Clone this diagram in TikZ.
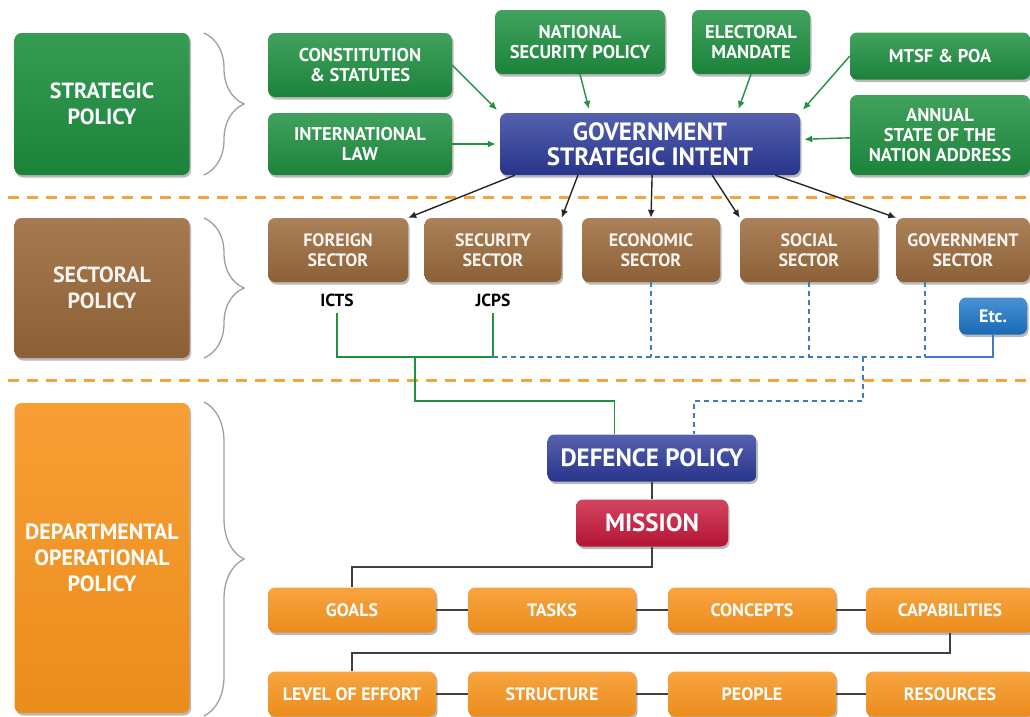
\documentclass[tikz,border=0pt]{standalone}
\usepackage{fontspec}
\setmainfont{PT Sans}
\usepackage{tikz}
\usetikzlibrary{shadows,calc,arrows.meta,decorations.pathreplacing}

\definecolor{stratgreen}{HTML}{1F9141}
\definecolor{intentblue}{HTML}{2B3A9A}
\definecolor{sectbrown}{HTML}{9C6B3C}
\definecolor{deptorange}{HTML}{F7941E}
\definecolor{missionred}{HTML}{C8163A}
\definecolor{etcblue}{HTML}{1B75C9}
\definecolor{linkblue}{HTML}{3D7CC4}
\definecolor{sepcolor}{HTML}{F5A43C}

\tikzset{
  box/.style={rounded corners=7pt, text=white, align=center, inner sep=2pt,
    drop shadow={shadow xshift=1.5pt, shadow yshift=-2.5pt, opacity=0.55}},
  sz/.style 2 args={minimum width=#1pt, minimum height=#2pt},
  sidebox/.style={box, font=\fontsize{22}{26}\selectfont\bfseries},
  greenbox/.style={box, top color=stratgreen!85!white, bottom color=stratgreen!90!black,
    font=\fontsize{18.5}{20}\selectfont\bfseries},
  bluebox/.style={box, top color=intentblue!80!white, bottom color=intentblue!90!black,
    font=\fontsize{25}{25}\selectfont\bfseries},
  brownbox/.style={box, top color=sectbrown!85!white, bottom color=sectbrown!90!black,
    text=white!92!sectbrown, font=\fontsize{18}{20}\selectfont\bfseries},
  orangebox/.style={box, top color=deptorange!85!white, bottom color=deptorange!95!black,
    font=\fontsize{18}{20}\selectfont\bfseries, sz={168}{45}},
  sidebrace/.style={decorate, decoration={brace, amplitude=40pt}, draw=gray!75, line width=1.3pt},
  sepline/.style={sepcolor, line width=3pt, dash pattern=on 11pt off 8pt},
  garrow/.style={-{Latex[length=8pt,width=7pt]}, stratgreen, line width=1.4pt, shorten >=4pt},
  karrow/.style={-{Latex[length=8pt,width=7pt]}, black!85, line width=1.4pt},
  glink/.style={stratgreen, line width=1.4pt},
  dlink/.style={linkblue, line width=1.6pt, dash pattern=on 5pt off 4pt},
  blink/.style={linkblue, line width=1.6pt},
  link/.style={black!75, line width=2pt},
}

\begin{document}
\begin{tikzpicture}[x=1pt,y=-1pt]

\useasboundingbox (0,0) rectangle (1030,716);
\clip (0,0) rectangle (1030,716);

% levels
\node[sidebox, top color=stratgreen!90!white, bottom color=stratgreen!90!black, sz={175}{142}] (strat) at (102,104) {STRATEGIC\\POLICY};
\node[sidebox, top color=sectbrown!90!white, bottom color=sectbrown!90!black, text=white!92!sectbrown, sz={175}{140}] (sect) at (102,288) {SECTORAL\\POLICY};
\node[sidebox, top color=deptorange!90!white, bottom color=deptorange!95!black, sz={175}{310}] (dept) at (102,558) {DEPARTMENTAL\\OPERATIONAL\\POLICY};

\draw[sidebrace] (204,33) -- (204,175);
\draw[sidebrace] (204,218) -- (204,358);
\draw[sidebrace] (204,402) -- (204,716);

\draw[sepline] (8,197) -- (1030,197);
\draw[sepline] (8,380) -- (1030,380);

% strategic
\node[greenbox, sz={184}{64}] (const) at (360,65) {CONSTITUTION\\\& STATUTES};
\node[greenbox, sz={184}{62}] (intl) at (360,144) {INTERNATIONAL\\LAW};
\node[greenbox, sz={170}{64}] (nsp) at (580,42) {NATIONAL\\SECURITY POLICY};
\node[greenbox, sz={118}{64}] (elec) at (751,42) {ELECTORAL\\MANDATE};
\node[greenbox, sz={180}{47}] (mtsf) at (940,56) {MTSF \& POA};
\node[greenbox, sz={180}{80}] (annual) at (940,135) {ANNUAL\\STATE OF THE\\NATION ADDRESS};
\node[bluebox, sz={300}{62}] (gsi) at (650,144) {GOVERNMENT\\STRATEGIC INTENT};

\draw[garrow] (const.east) -- (gsi.north west);
\draw[garrow] (intl) -- (gsi);
\draw[garrow] (nsp.south) -- ($(gsi.north west)!0.3!(gsi.north east)$);
\draw[garrow] (elec.south) -- ($(gsi.north west)!0.79!(gsi.north east)$);
\draw[garrow] (mtsf.west) -- (gsi.north east);
\draw[garrow] (annual) -- (gsi);

% sectoral
\node[brownbox, sz={140}{64}] (foreign) at (338,250) {FOREIGN\\SECTOR};
\node[brownbox, sz={137}{64}] (security) at (493,250) {SECURITY\\SECTOR};
\node[brownbox, sz={138}{64}] (econ) at (651,250) {ECONOMIC\\SECTOR};
\node[brownbox, sz={138}{64}] (social) at (809,250) {SOCIAL\\SECTOR};
\node[brownbox, sz={133}{64}] (gov) at (963,250) {GOVERNMENT\\SECTOR};

\foreach \f/\t in {0.05/foreign.north east, 0.26/security.north east, 0.507/econ.north,
                   0.707/social.north west, 0.917/gov.north west}
  \draw[karrow] ($(gsi.south west)!\f!(gsi.south east)$) -- (\t);

\node[font=\fontsize{17.5}{20}\selectfont\bfseries, inner sep=6pt] (icts) at (337,300) {ICTS};
\node[font=\fontsize{17.5}{20}\selectfont\bfseries, inner sep=6pt] (jcps) at (493,300) {JCPS};
\node[box, top color=etcblue!80!white, bottom color=etcblue!90!black, sz={68}{37},
  font=\fontsize{18}{20}\selectfont\bfseries] (etc) at (993,316) {Etc.};

% departmental
\node[bluebox, sz={209}{47}] (defence) at (652,458) {DEFENCE POLICY};
\node[box, top color=missionred!80!white, bottom color=missionred!90!black, sz={152}{47},
  font=\fontsize{25}{25}\selectfont\bfseries] (mission) at (652,523) {MISSION};

\node[orangebox] (goals) at (352,610) {GOALS};
\node[orangebox] (tasks) at (552,610) {TASKS};
\node[orangebox] (concepts) at (752,610) {CONCEPTS};
\node[orangebox] (capab) at (950,610) {CAPABILITIES};
\node[orangebox] (effort) at (352,694) {LEVEL OF EFFORT};
\node[orangebox] (structure) at (552,694) {STRUCTURE};
\node[orangebox] (people) at (752,694) {PEOPLE};
\node[orangebox] (resources) at (950,694) {RESOURCES};

% connectors
\coordinate (gjoin) at (415,357);
\coordinate (djoin) at (863,357);
\coordinate (bjoin) at (925,357);

\draw[glink] (icts.south) -- (icts.south |- gjoin) -- (jcps.south |- gjoin) -- (jcps.south);
\draw[glink] (gjoin) -- ++(0,44) -| ($(defence.north west)!0.32!(defence.north east)$);

\draw[dlink] (jcps.south |- gjoin) -- (bjoin);
\draw[dlink] (econ.south) -- (econ.south |- bjoin);
\draw[dlink] (social.south) -- (social.south |- bjoin);
\draw[dlink] (gov.south -| bjoin) -- (bjoin);
\draw[dlink] (djoin) -- ++(0,44) -| ($(defence.north west)!0.7!(defence.north east)$);
\draw[blink] (etc.south) |- (bjoin);

\draw[link] (defence) -- (mission);
\draw[link] (mission.south) -- ++(0,20) -| (goals.north);
\draw[link] (capab.south) -- ++(0,20) -| (effort.north);
\draw[link] (goals) -- (tasks) -- (concepts) -- (capab);
\draw[link] (effort) -- (structure) -- (people) -- (resources);

\end{tikzpicture}
\end{document}
